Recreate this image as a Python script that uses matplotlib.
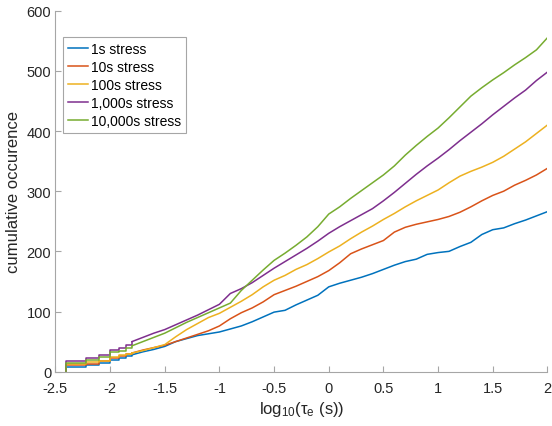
import matplotlib
matplotlib.use("Agg")
import matplotlib.pyplot as plt
import numpy as np

plt.rcParams['font.family'] = ['Liberation Sans', 'DejaVu Sans']
plt.rcParams['mathtext.fontset'] = 'custom'
plt.rcParams['mathtext.rm'] = 'Liberation Sans'
plt.rcParams['mathtext.it'] = 'Liberation Sans:italic'

# log10 of emission time (s)
log_tau = [-2.4, -2.22, -2.1, -2.0, -1.92, -1.85, -1.8,
           -1.7, -1.6, -1.5, -1.4, -1.3, -1.2, -1.1, -1.0, -0.9, -0.8,
           -0.7, -0.6, -0.5, -0.4, -0.3, -0.2, -0.1, 0.0, 0.1, 0.2,
           0.3, 0.4, 0.5, 0.6, 0.7, 0.8, 0.9, 1.0, 1.1, 1.2,
           1.3, 1.4, 1.5, 1.6, 1.7, 1.8, 1.9, 2.0]
n_steps = 7  # first few points are clearly stair steps

stress_1s = [8, 11, 15, 20, 23, 26, 28,
             33, 37, 42, 50, 55, 60, 63, 66, 71, 76,
             83, 91, 99, 102, 111, 119, 127, 141, 147, 152,
             157, 163, 170, 177, 183, 187, 195, 198, 200, 208,
             215, 228, 236, 239, 246, 252, 259, 266]
stress_10s = [11, 13, 18, 23, 26, 29, 31,
              36, 40, 44, 50, 56, 62, 68, 76, 88, 98,
              106, 116, 128, 135, 142, 150, 158, 168, 181, 196,
              204, 211, 218, 232, 240, 245, 249, 253, 258, 265,
              274, 284, 293, 300, 310, 318, 327, 338]
stress_100s = [13, 16, 18, 24, 27, 29, 31,
               35, 40, 45, 58, 70, 80, 90, 97, 107, 117,
               128, 141, 152, 160, 170, 178, 188, 199, 209, 221,
               232, 242, 253, 263, 274, 284, 293, 302, 314, 325,
               333, 340, 348, 358, 370, 382, 396, 410]
stress_1000s = [17, 23, 28, 36, 40, 45, 50,
                57, 64, 70, 78, 86, 94, 103, 112, 130, 138,
                148, 160, 172, 183, 194, 205, 217, 230, 241, 251,
                261, 271, 284, 298, 313, 328, 342, 355, 369, 384,
                398, 412, 427, 441, 455, 468, 484, 498]
stress_10000s = [15, 20, 24, 32, 35, 39, 43,
                 50, 57, 64, 73, 82, 90, 98, 106, 114, 135,
                 152, 169, 185, 197, 210, 224, 241, 262, 274, 288,
                 301, 314, 327, 342, 360, 376, 391, 405, 422, 440,
                 458, 472, 485, 497, 510, 522, 535, 555]

labels = ['1s stress', '10s stress', '100s stress', '1,000s stress', '10,000s stress']
colors = ['#0072BD', '#D95319', '#EDB120', '#7E2F8E', '#77AC30']
series = [stress_1s, stress_10s, stress_100s, stress_1000s, stress_10000s]

fig = plt.figure(figsize=(5.52, 4.27), dpi=100)
ax = fig.add_axes([0.1004, 0.1272, 0.8913, 0.8454])

x = np.array(log_tau)
k = n_steps - 1
for y, c, lab in zip(series, colors, labels):
    y = np.array(y)
    # stair part starts from zero at the first sample
    ax.step(np.r_[x[0], x[:n_steps]], np.r_[0, y[:n_steps]], where='post', color=c, lw=1.1)
    ax.plot(x[k:], y[k:], color=c, lw=1.1, label=lab)

ax.set_xlim(-2.5, 2)
ax.set_ylim(0, 600)
ax.set_xticks([-2.5, -2, -1.5, -1, -0.5, 0, 0.5, 1, 1.5, 2])
ax.set_xticklabels(['-2.5', '-2', '-1.5', '-1', '-0.5', '0', '0.5', '1', '1.5', '2'])
ax.set_yticks([0, 100, 200, 300, 400, 500, 600])

for s in ['top', 'right']:
    ax.spines[s].set_visible(False)
for s in ['left', 'bottom']:
    ax.spines[s].set_color('#a6a6a6')
    ax.spines[s].set_linewidth(0.8)
ax.tick_params(direction='in', length=4, width=0.8, color='#a6a6a6',
               labelcolor='#262626', labelsize=10.5)
ax.tick_params(axis='x', pad=6.5)
ax.tick_params(axis='y', pad=3)

ax.set_xlabel(r'log$_{\mathrm{10}}$(τ$_{\mathrm{e}}$ (s))', fontsize=12, color='#262626', labelpad=3)
ax.set_ylabel('cumulative occurence', fontsize=12, color='#262626', labelpad=4)

leg = ax.legend(loc='upper left', bbox_to_anchor=(0.016, 0.926), borderaxespad=0,
                fontsize=10, handlelength=1.45, handletextpad=0.2, labelspacing=0.28,
                borderpad=0.35, fancybox=False, framealpha=1)
leg.get_frame().set_edgecolor('#a6a6a6')
leg.get_frame().set_linewidth(0.8)

fig.savefig('out.png', dpi=100)
